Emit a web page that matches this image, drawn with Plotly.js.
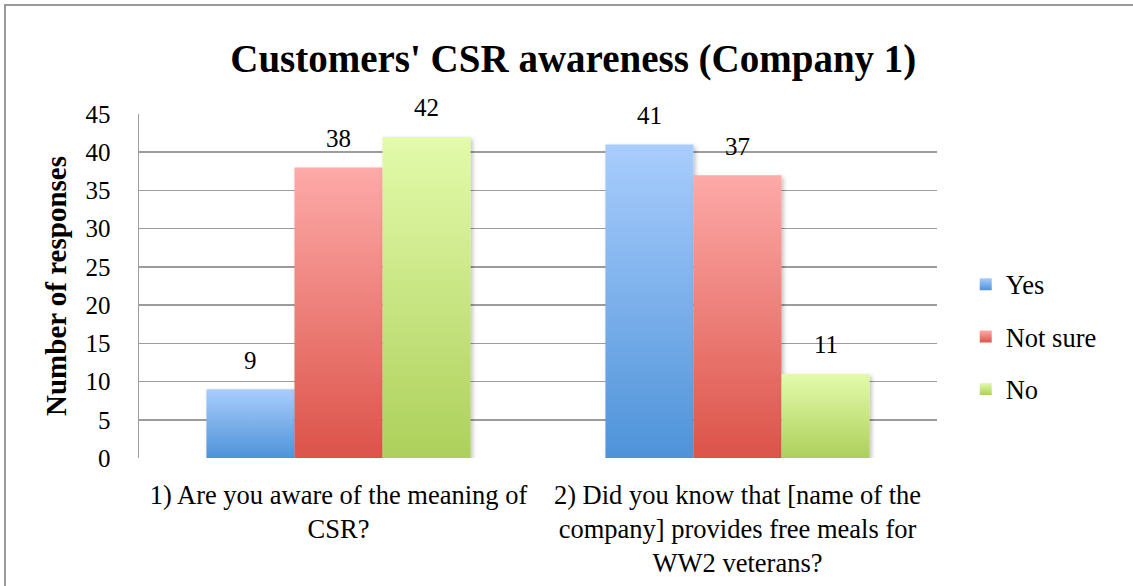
<!DOCTYPE html>
<html>
<head>
<meta charset="utf-8">
<script src="https://cdn.plot.ly/plotly-3.0.1.min.js"></script>
<style>
  html, body { margin: 0; padding: 0; background: #fff; }
  #wrap { position: relative; width: 1133px; height: 586px; overflow: hidden; }
  #chart { position: absolute; left: 0; top: 0; width: 1133px; height: 586px; }
  #frame { position: absolute; left: 4px; top: 4px; width: 1140px; height: 600px;
           border-top: 2px solid #9a9a9a; border-left: 2px solid #9a9a9a; pointer-events: none; }
</style>
</head>
<body>
<div id="wrap">
  <div id="chart"></div>
  <div id="frame"></div>
</div>
<script>
const categories = [
  "1) Are you aware of the meaning of<br>CSR?",
  "2) Did you know that [name of the<br>company] provides free meals for<br>WW2 veterans?"
];
const seriesNames = ["Yes", "Not sure", "No"];
const yesValues = [9, 41];
const notSureValues = [38, 37];
const noValues = [42, 11];
const yTicks = [0, 5, 10, 15, 20, 25, 30, 35, 40, 45];

const seriesValues = [yesValues, notSureValues, noValues];
const baseColors = ["#79acec", "#ea7c74", "#c8e480"];
const gradStops = [
  ["#a9cdfd", "#4e93d9"],
  ["#fdaaa8", "#dc5349"],
  ["#e3fbab", "#add05b"]
];
const FONT = "Liberation Serif";
const FS = 25;
const bargap = 0.338;

const traces = seriesNames.map((name, j) => ({
  type: "bar",
  name: name,
  x: [0, 1],
  y: seriesValues[j],
  legendgroup: "g" + j,
  marker: { color: baseColors[j], line: { width: 0 } },
  hoverinfo: "skip"
}));

const barW = (1 - bargap) / seriesNames.length;
const annotations = [];
seriesValues.forEach((vals, j) => {
  vals.forEach((v, i) => {
    annotations.push({
      x: i + (j - (seriesNames.length - 1) / 2) * barW,
      y: v,
      xref: "x", yref: "y",
      text: String(v),
      showarrow: false,
      yanchor: "middle",
      yshift: 29,
      font: { family: FONT, size: FS, color: "#000" }
    });
  });
});

const layout = {
  width: 1133,
  height: 586,
  margin: { l: 139, r: 196, t: 114, b: 128 },
  paper_bgcolor: "#fff",
  plot_bgcolor: "#fff",
  barmode: "group",
  bargap: bargap,
  bargroupgap: 0,
  showlegend: true,
  title: {
    text: "<b>Customers' CSR awareness (Company 1)</b>",
    font: { family: FONT, size: 39, color: "#000" },
    x: 0.506, xanchor: "center",
    y: 0.9, yanchor: "middle"
  },
  xaxis: {
    type: "linear",
    range: [-0.5, 1.5],
    tickvals: [0, 1],
    ticktext: categories,
    showgrid: false,
    zeroline: false,
    showline: false,
    ticks: "",
    ticklabelstandoff: 18,
    tickfont: { family: FONT, size: 26.5, color: "#000" }
  },
  yaxis: {
    range: [0, 45],
    tickvals: yTicks,
    showgrid: true,
    gridcolor: "#9c9c9c",
    gridwidth: 1.5,
    zeroline: false,
    showline: true,
    linecolor: "#9c9c9c",
    linewidth: 1.5,
    ticks: "",
    ticklabelstandoff: 22,
    tickfont: { family: FONT, size: FS, color: "#000" },
    title: {
      text: "<b>Number of responses</b>",
      font: { family: FONT, size: 29, color: "#000" },
      standoff: 10
    }
  },
  legend: {
    x: 1.036, xanchor: "left",
    y: 0.352, yanchor: "middle",
    font: { family: FONT, size: 26.5, color: "#000" },
    tracegroupgap: 15,
    bgcolor: "rgba(0,0,0,0)",
    itemwidth: 30
  },
  annotations: annotations
};

Plotly.newPlot("chart", traces, layout, { displayModeBar: false, staticPlot: true }).then(gd => {
  const svgNS = "http://www.w3.org/2000/svg";
  const svg = gd.querySelector(".main-svg");
  let defs = svg.querySelector("defs");
  if (!defs) { defs = document.createElementNS(svgNS, "defs"); svg.insertBefore(defs, svg.firstChild); }
  gradStops.forEach((st, j) => {
    const g = document.createElementNS(svgNS, "linearGradient");
    g.setAttribute("id", "barGrad" + j);
    g.setAttribute("x1", "0"); g.setAttribute("y1", "0");
    g.setAttribute("x2", "0"); g.setAttribute("y2", "1");
    [[0, st[0]], [1, st[1]]].forEach(([o, c]) => {
      const s = document.createElementNS(svgNS, "stop");
      s.setAttribute("offset", o);
      s.setAttribute("stop-color", c);
      g.appendChild(s);
    });
    defs.appendChild(g);
  });
  const f = document.createElementNS(svgNS, "filter");
  f.setAttribute("id", "barShadow");
  f.setAttribute("x", "-20%"); f.setAttribute("y", "-20%");
  f.setAttribute("width", "140%"); f.setAttribute("height", "140%");
  const ds = document.createElementNS(svgNS, "feDropShadow");
  ds.setAttribute("dx", "2"); ds.setAttribute("dy", "2");
  ds.setAttribute("stdDeviation", "2");
  ds.setAttribute("flood-color", "#000");
  ds.setAttribute("flood-opacity", "0.25");
  f.appendChild(ds);
  defs.appendChild(f);

  gd.querySelectorAll(".barlayer .trace").forEach((tr, j) => {
    tr.querySelectorAll("path").forEach(p => {
      p.style.fill = "url(#barGrad" + j + ")";
      p.setAttribute("filter", "url(#barShadow)");
    });
  });
  gd.querySelectorAll(".legend .traces").forEach((tr, j) => {
    tr.querySelectorAll(".legendpoints path").forEach(p => {
      p.style.fill = "url(#barGrad" + j + ")";
    });
  });
});
</script>
</body>
</html>
